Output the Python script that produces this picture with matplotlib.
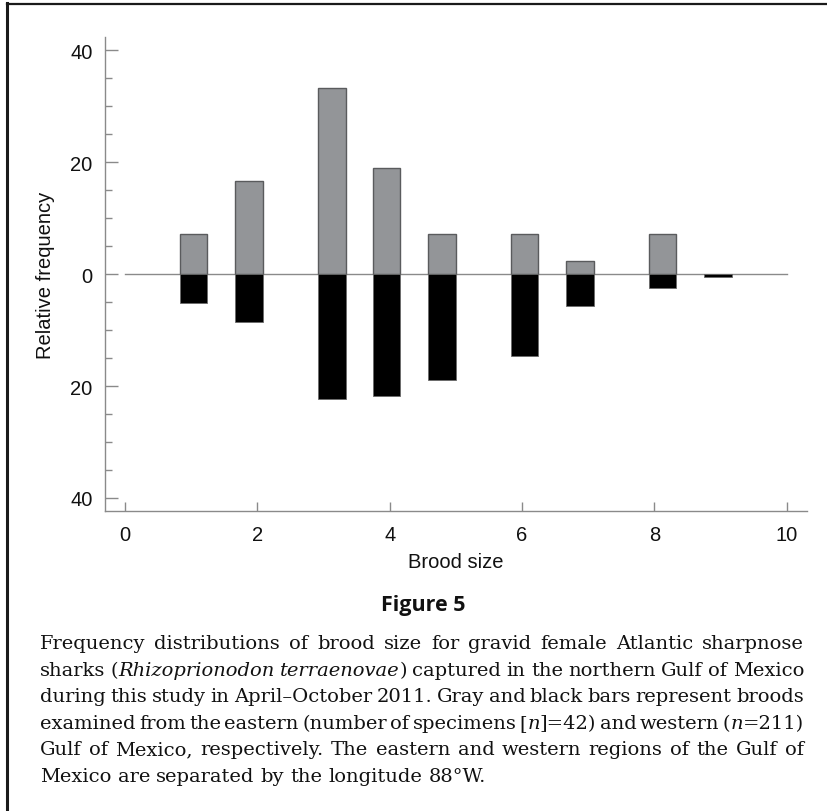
import matplotlib
matplotlib.use("Agg")
import matplotlib.pyplot as plt
from matplotlib.lines import Line2D
from matplotlib.ticker import FuncFormatter, MultipleLocator

# ---- data ----
brood_pos = [1.04, 1.875, 3.13, 3.955, 4.79, 6.04, 6.875, 8.12, 8.96]
eastern_pct = [7.1, 16.7, 33.3, 19.0, 7.1, 7.1, 2.4, 7.1, 0.0]   # gray, n=42
western_pct = [5.2, 8.5, 22.3, 21.8, 19.0, 14.7, 5.7, 2.4, 0.5]  # black, n=211
x_ticks = [0, 2, 4, 6, 8, 10]
y_ticks = [-40, -20, 0, 20, 40]

W, H = 828, 812
fig = plt.figure(figsize=(W / 100, H / 100), dpi=100)
fig.patch.set_facecolor("white")

def fx(px):
    return px / W

def fy(py):
    return 1 - py / H

left, right, top, bottom = 105, 806.7, 38, 512.3
ax = fig.add_axes([fx(left), fy(bottom), fx(right) - fx(left), fy(top) - fy(bottom)])
ax.set_xlim(-0.302, 10.30)
ax.set_ylim(-42.4, 42.4)

axis_col = "#8a8a8a"
bar_w = 0.413
ax.plot([0, 10], [0, 0], color=axis_col, lw=1.0, zorder=1)

ep = [p for p, v in zip(brood_pos, eastern_pct) if v > 0]
ev = [v for v in eastern_pct if v > 0]
ax.bar(ep, ev, width=bar_w, color="#939598", edgecolor="#5a5b5d", linewidth=1.0, zorder=2)
wp = [p for p, v in zip(brood_pos, western_pct) if v > 0]
wv = [-v for v in western_pct if v > 0]
ax.bar(wp, wv, width=bar_w, color="black", edgecolor="#6a6a6a", linewidth=0.6, zorder=2)

for s in ["top", "right"]:
    ax.spines[s].set_visible(False)
for s in ["left", "bottom"]:
    ax.spines[s].set_color(axis_col)
    ax.spines[s].set_linewidth(1.0)

sans = ["Liberation Sans", "DejaVu Sans"]
fs_ax = 14.5
ax.set_xticks(x_ticks)
ax.set_yticks(y_ticks)
ax.yaxis.set_minor_locator(MultipleLocator(5))
ax.yaxis.set_major_formatter(FuncFormatter(lambda v, p: f"{abs(int(round(v)))}"))
ax.tick_params(axis="y", which="major", direction="in", length=9.4, width=1.0, color=axis_col, pad=9)
ax.tick_params(axis="y", which="minor", direction="in", length=5, width=1.0, color=axis_col)
ax.tick_params(axis="x", which="major", direction="in", length=6.5, width=1.0, color=axis_col, pad=10)
for lab in ax.get_xticklabels() + ax.get_yticklabels():
    lab.set_fontfamily(sans)
    lab.set_fontsize(fs_ax)
    lab.set_color("#111111")

fig.text(fx(46), fy(275), "Relative frequency", rotation=90, ha="center", va="center",
         fontsize=fs_ax, family=sans, color="#111111")
fig.text(fx(456), fy(563), "Brood size", ha="center", va="center",
         fontsize=fs_ax, family=sans, color="#111111")

fig.text(fx(423), fy(606), "Figure 5", ha="center", va="center", fontsize=15.5,
         fontweight="bold", family=["Open Sans", "DejaVu Sans"], color="#111111")

# ---- justified caption ----
R, I = "normal", "italic"
caption = [
    [[("Frequency", R)], [("distributions", R)], [("of", R)], [("brood", R)], [("size", R)],
     [("for", R)], [("gravid", R)], [("female", R)], [("Atlantic", R)], [("sharpnose", R)]],
    [[("sharks", R)], [("(", R), ("Rhizoprionodon", I)], [("terraenovae", I), (")", R)],
     [("captured", R)], [("in", R)], [("the", R)], [("northern", R)], [("Gulf", R)], [("of", R)],
     [("Mexico", R)]],
    [[("during", R)], [("this", R)], [("study", R)], [("in", R)], [("April\u2013October", R)],
     [("2011.", R)], [("Gray", R)], [("and", R)], [("black", R)], [("bars", R)],
     [("represent", R)], [("broods", R)]],
    [[("examined", R)], [("from", R)], [("the", R)], [("eastern", R)], [("(number", R)],
     [("of", R)], [("specimens", R)], [("[", R), ("n", I), ("]=42)", R)], [("and", R)],
     [("western", R)], [("(", R), ("n", I), ("=211)", R)]],
    [[("Gulf", R)], [("of", R)], [("Mexico,", R)], [("respectively.", R)], [("The", R)],
     [("eastern", R)], [("and", R)], [("western", R)], [("regions", R)], [("of", R)],
     [("the", R)], [("Gulf", R)], [("of", R)]],
    [[("Mexico", R)], [("are", R)], [("separated", R)], [("by", R)], [("the", R)],
     [("longitude", R)], [("88\u00b0W.", R)]],
]
line_y = [642, 668.6, 695.2, 721.8, 748.4, 775]
cap_left, cap_right = 40, 804
cap_size = 14
serif = ["DejaVu Serif"]

renderer = fig.canvas.get_renderer()
space_t = fig.text(0, 0, "a a", fontsize=cap_size, family=serif)
aa_t = fig.text(0, 0, "aa", fontsize=cap_size, family=serif)
space_w = (space_t.get_window_extent(renderer).width - aa_t.get_window_extent(renderer).width)
space_t.remove()
aa_t.remove()

for li, (words, ypx) in enumerate(zip(caption, line_y)):
    word_objs = []
    for word in words:
        segs = []
        for txt, style in word:
            t = fig.text(0, fy(ypx), txt, fontsize=cap_size, family=serif, style=style,
                         ha="left", va="center_baseline", color="#111111")
            w = t.get_window_extent(renderer).width
            segs.append((t, w))
        word_objs.append(segs)
    widths = [sum(w for _, w in segs) for segs in word_objs]
    total = sum(widths)
    avail = cap_right - cap_left
    if li < len(caption) - 1:
        gap = (avail - total) / (len(words) - 1)
        scale = 1.0
        if gap < space_w * 0.4:
            # too tight: shrink the words slightly
            gap = space_w * 0.4
            scale = (avail - gap * (len(words) - 1)) / total
    else:
        gap = space_w
        scale = 1.0
    if scale < 1.0:
        for segs in word_objs:
            for t, _ in segs:
                t.set_fontsize(cap_size * scale)
        word_objs = [[(t, w * scale) for t, w in segs] for segs in word_objs]
        widths = [w * scale for w in widths]
    x = cap_left
    for segs, ww in zip(word_objs, widths):
        xx = x
        for t, w in segs:
            t.set_x(fx(xx))
            xx += w
        x += ww + gap

# ---- frame lines (top and left only visible) ----
fig.add_artist(Line2D([fx(7.5), 1.0], [fy(5), fy(5)], color="#1a1a1a", lw=1.6,
                      transform=fig.transFigure))
fig.add_artist(Line2D([fx(7.5), fx(7.5)], [fy(4.2), 0.0], color="#1a1a1a", lw=2.2,
                      transform=fig.transFigure))

fig.savefig("out.png", dpi=100)
